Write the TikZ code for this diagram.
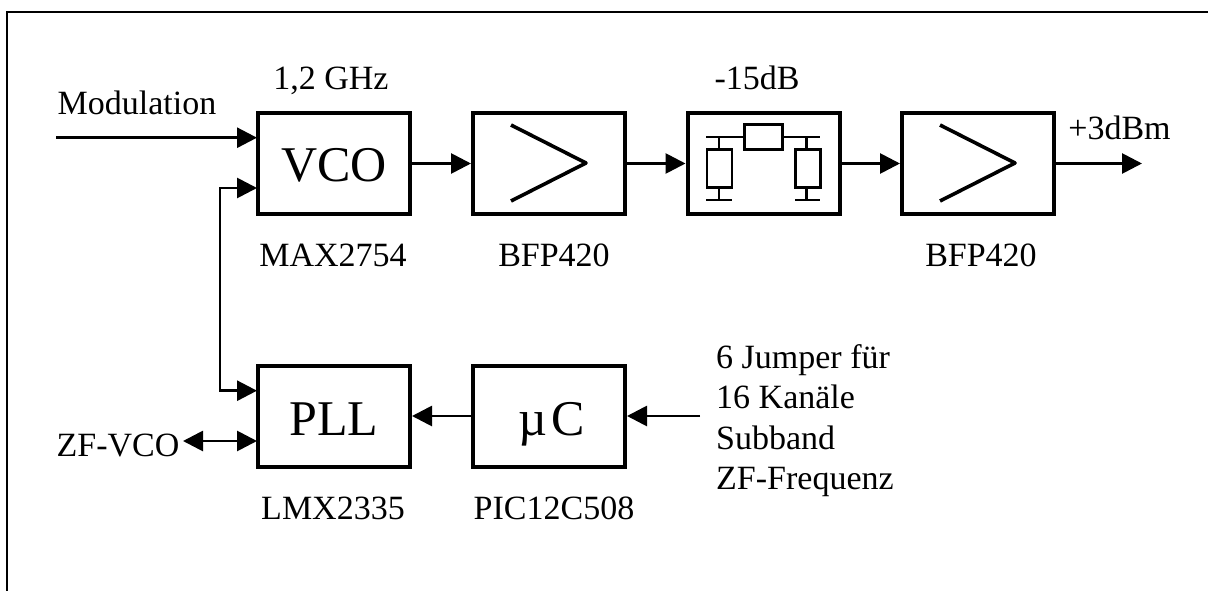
\documentclass[tikz,border=0pt]{standalone}
\usepackage{fontspec}
\setmainfont{Liberation Serif}
\usetikzlibrary{arrows.meta}
\tikzset{
  blockbox/.style={draw=black,line width=4pt,minimum width=152pt,minimum height=101pt,inner sep=0pt,fill=white},
  bigtxt/.style={font=\fontsize{50}{50}\selectfont,inner sep=0pt,anchor=base},
  lbl/.style={font=\fontsize{34}{40}\selectfont,inner sep=0pt,anchor=base},
  wire/.style={line width=2.8pt,-{Triangle[length=20pt,width=20pt]}},
  dwire/.style={line width=2.8pt,{Triangle[length=20pt,width=20pt]}-{Triangle[length=20pt,width=20pt]}},
  sym/.style={line width=2.7pt},
  ampsym/.style={line width=3.6pt,line join=round},
  symbox/.style={draw=black,line width=2.7pt,inner sep=0pt,fill=white},
  frame/.style={line width=2.2pt}
}
\begin{document}
\begin{tikzpicture}[x=1pt,y=-1pt]
\useasboundingbox (0,0) rectangle (1208,591);
\draw[frame] (7,591) -- (7,12) -- (1208,12);
% blocks
\node[blockbox] (vco) at (334,163.5) {};
\node[blockbox] (amp1) at (549,163.5) {};
\node[blockbox] (att) at (763.5,163.5) {};
\node[blockbox] (amp2) at (978,163.5) {};
\node[blockbox] (pll) at (334,416) {};
\node[blockbox] (uc) at (549,416) {};
\node[bigtxt] (tvco) at (334,182) {VCO};
\node[bigtxt] (tpll) at (334,435) {PLL};
\node[bigtxt] (tuc) at (551.5,435) {µ\hspace{4pt}C};
% labels
\node[lbl] (l12) at (331,90) {1,2 GHz};
\node[lbl] (l15) at (757,90) {-15dB};
\node[lbl] (lmod) at (137,115) {Modulation};
\node[lbl] (l3) at (1119.5,140) {+3dBm};
\node[lbl] (lmax) at (333,266) {MAX2754};
\node[lbl] (lb1) at (554,266) {BFP420};
\node[lbl] (lb2) at (981,266) {BFP420};
\node[lbl] (llmx) at (333,519) {LMX2335};
\node[lbl] (lpic) at (554,519) {PIC12C508};
\node[lbl] (lzf) at (118,456) {ZF-VCO};
\node[lbl,align=left,anchor=west,font=\fontsize{34}{40.5}\selectfont] (ljmp) at (716,420.5) {6 Jumper für\\16 Kanäle\\Subband\\ZF-Frequenz};
% amp symbols
\draw[ampsym] (511,125) -- (586,163) -- (511,201);
\draw[ampsym] (940,125) -- (1015,163) -- (940,201);
% attenuator
\node[symbox,minimum width=38pt,minimum height=25.5pt] (rs) at (763.7,137) {};
\node[symbox,minimum width=25pt,minimum height=38pt] (r1) at (719.5,168.7) {};
\node[symbox,minimum width=25pt,minimum height=38pt] (r2) at (808,168.7) {};
\coordinate (t1) at (719,137);
\coordinate (t2) at (806.7,137);
\coordinate (b1) at (719,200);
\coordinate (b2) at (806.7,200);
\draw[sym] (706,137) -- (rs.west) (rs.east) -- (820,137);
\draw[sym] (t1) -- (t1 |- r1.north) (t2) -- (t2 |- r2.north);
\draw[sym] (b1 |- r1.south) -- (b1) (b2 |- r2.south) -- (b2);
\draw[sym] (706,200) -- (731.7,200) (795,200) -- (820,200);
% connectors
\coordinate (modin) at (56,137.7);
\coordinate (vcoa) at (257,137.7);
\coordinate (vcob) at (257,188);
\coordinate (plla) at (257,390.7);
\coordinate (plld) at (257,441);
\coordinate (zf) at (183,441);
\coordinate (out) at (1142,163.5);
\coordinate (jmp) at (700,416);
\draw[wire] (modin) -- (vcoa);
\draw[dwire] (vcob) -- (220,188) -- (220,390.7) -- (plla);
\draw[dwire] (zf) -- (plld);
\draw[wire] (vco) -- (amp1);
\draw[wire] (amp1) -- (att);
\draw[wire] (att) -- (amp2);
\draw[wire] (amp2.east) -- (out);
\draw[wire] (jmp) -- (uc.east);
\draw[wire] (uc) -- (pll);
\end{tikzpicture}
\end{document}
